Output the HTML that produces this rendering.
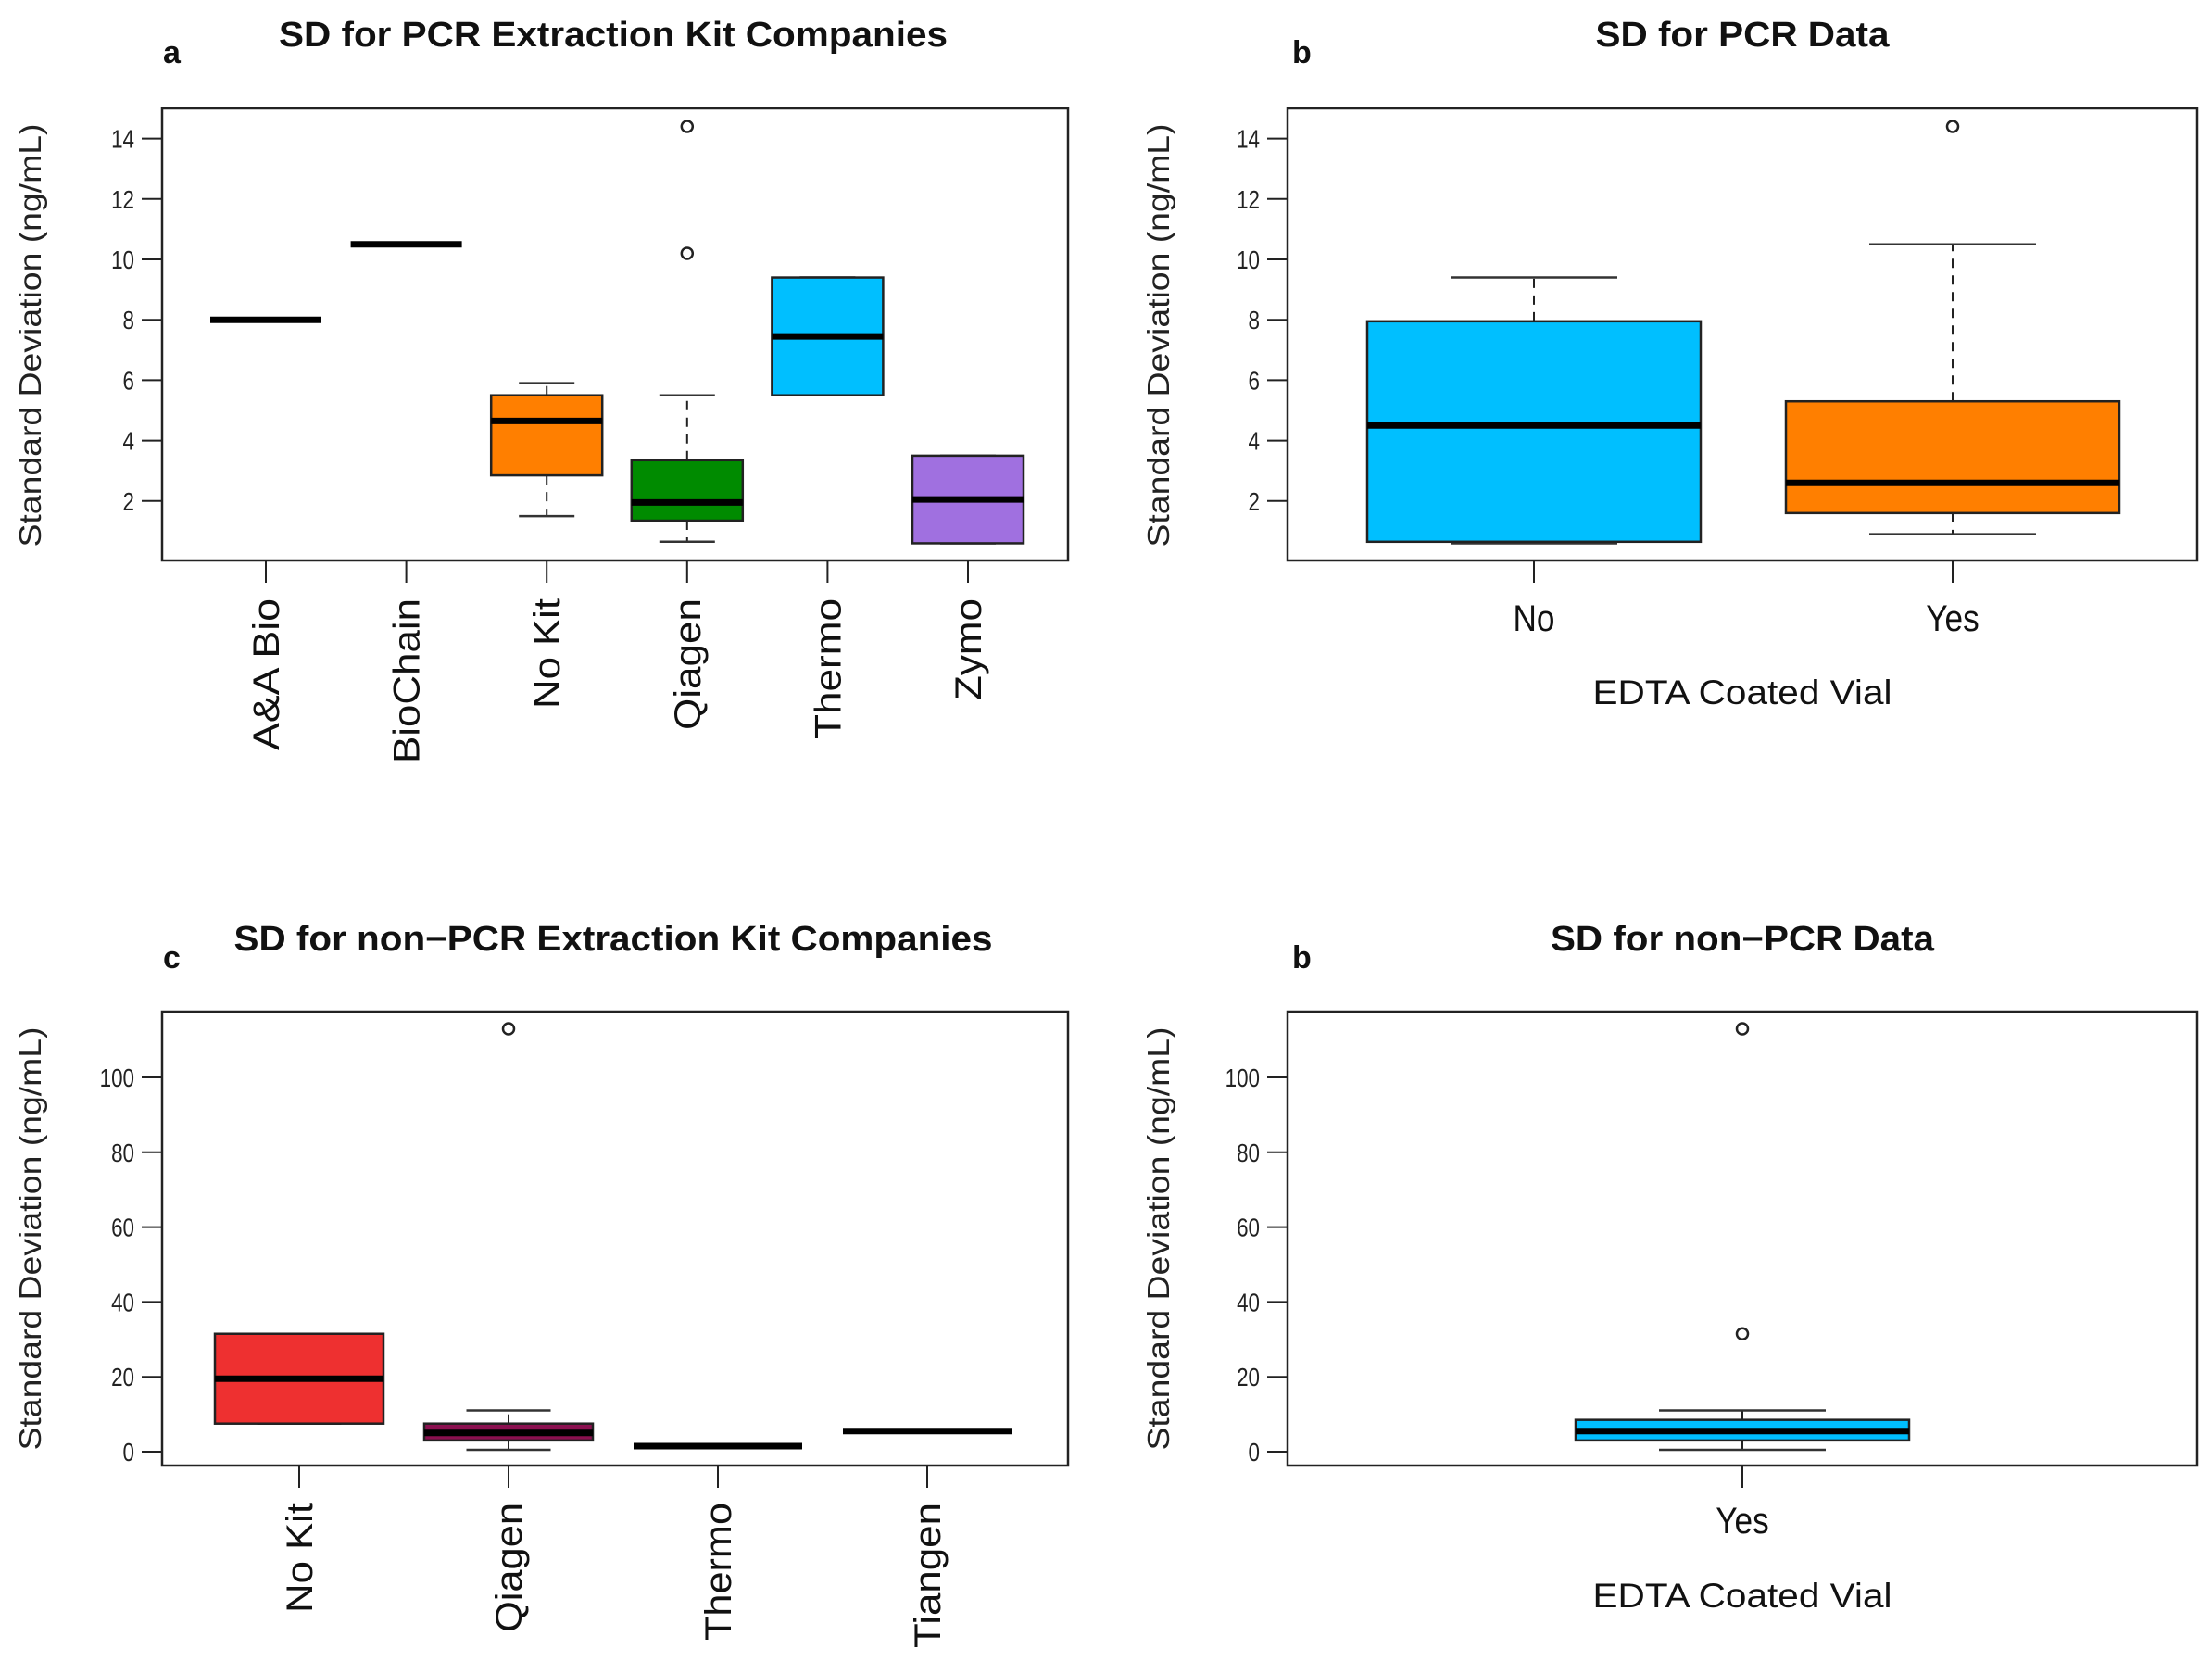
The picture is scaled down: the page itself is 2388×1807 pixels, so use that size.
<!DOCTYPE html>
<html><head><meta charset="utf-8"><style>
html,body{margin:0;padding:0;background:#fff;}
svg{display:block;font-family:"Liberation Sans",Arial,sans-serif;}
</style></head><body>
<svg id="fig" width="2388" height="1807" viewBox="0 0 2388 1807" xmlns="http://www.w3.org/2000/svg"></svg>
<script>
// ---- Panel a data ----
const catsA = ["A&A Bio","BioChain","No Kit","Qiagen","Thermo","Zymo"];
const loA   = [8, 10.5, 1.5, 0.65, 5.5, 0.6];
const q1A   = [8, 10.5, 2.85, 1.35, 5.5, 0.6];
const medA  = [8, 10.5, 4.65, 1.95, 7.45, 2.05];
const q3A   = [8, 10.5, 5.5, 3.35, 9.4, 3.5];
const hiA   = [8, 10.5, 5.9, 5.5, 9.4, 3.5];
const outA  = [[],[],[],[10.2,14.4],[],[]];
const colA  = ["#FF7F00","#FF7F00","#FF7F00","#008B00","#00BFFF","#A070E0"];
const ticksA = [2,4,6,8,10,12,14];
// ---- Panel b data ----
const catsB = ["No","Yes"];
const loB   = [0.6, 0.9];
const q1B   = [0.65, 1.6];
const medB  = [4.5, 2.6];
const q3B   = [7.95, 5.3];
const hiB   = [9.4, 10.5];
const outB  = [[],[14.4]];
const colB  = ["#00BFFF","#FF7F00"];
// ---- Panel c data ----
const catsC = ["No Kit","Qiagen","Thermo","Tiangen"];
const loC   = [7.5, 0.5, 1.5, 5.5];
const q1C   = [7.5, 3, 1.5, 5.5];
const medC  = [19.5, 5, 1.5, 5.5];
const q3C   = [31.5, 7.5, 1.5, 5.5];
const hiC   = [31.5, 11, 1.5, 5.5];
const outC  = [[],[113],[],[]];
const colC  = ["#EE3030","#8B1050","#888888","#888888"];
const ticksC = [0,20,40,60,80,100];
// ---- Panel d data ----
const catsD = ["Yes"];
const loD   = [0.5];
const q1D   = [3];
const medD  = [5.5];
const q3D   = [8.5];
const hiD   = [11];
const outD  = [[31.5,113]];
const colD  = ["#00BFFF"];

const NS="http://www.w3.org/2000/svg";
const svg=document.getElementById('fig');
function mk(tag,attrs,parent){const e=document.createElementNS(NS,tag);for(const k in attrs)e.setAttribute(k,attrs[k]);(parent||svg).appendChild(e);return e;}
function txt(s,attrs,parent){const t=mk('text',attrs,parent);t.textContent=s;return t;}

function panel(o){
  const g=mk('g',{});
  
  
  const {x0,x1,y0,y1}=o;
  const yS=v=>o.yZero - v*o.yPer;
  const n=o.cats.length;
  const xS=i=>o.cx0 + i*o.step;
  const fr=mk('rect',{x:x0,y:y0,width:x1-x0,height:y1-y0,fill:'none',stroke:'#222','stroke-width':2.5},g);
  
  
  o.ticks.forEach(t=>{
    const l=mk('line',{x1:x0-22,x2:x0,y1:yS(t),y2:yS(t),stroke:'#222','stroke-width':2},g);
    
    
    const tl=txt(String(t),{x:x0-30,y:yS(t)+10,'text-anchor':'end','font-size':28,fill:'#222',transform:`translate(${x0-30},0) scale(0.8,1) translate(${-(x0-30)},0)`},g);
    
    
  });
  const yl=txt('Standard Deviation (ng/mL)',{x:0,y:0,'text-anchor':'middle','font-size':33,fill:'#222',textLength:457,lengthAdjust:'spacingAndGlyphs',transform:`translate(${o.ylx},${o.yly}) rotate(-90)`},g);
  
  
  const ti=txt(o.title,{x:o.tx,y:o.ty,'text-anchor':'middle','font-size':38,'font-weight':'bold',fill:'#111',textLength:o.tlen,lengthAdjust:'spacingAndGlyphs'},g);
  
  
  const lt=txt(o.letter,{x:o.lx,y:o.ly,'font-size':34,'font-weight':'bold',fill:'#111'},g);
  
  
  for(let i=0;i<n;i++){
    const cx=xS(i), hw=o.hw;
    const tk=mk('line',{x1:cx,x2:cx,y1:y1,y2:y1+24,stroke:'#222','stroke-width':2},g);
    
    
    if(o.hi[i]>o.q3[i]){
      const w=mk('line',{x1:cx,x2:cx,y1:yS(o.q3[i]),y2:yS(o.hi[i]),stroke:'#222','stroke-width':2,'stroke-dasharray':'10,8'},g);
      
      
    }
    if(o.lo[i]<o.q1[i]){
      const w=mk('line',{x1:cx,x2:cx,y1:yS(o.q1[i]),y2:yS(o.lo[i]),stroke:'#222','stroke-width':2,'stroke-dasharray':'10,8'},g);
      
      
    }
    [o.hi[i],o.lo[i]].forEach(v=>{
      const c=mk('line',{x1:cx-hw/2,x2:cx+hw/2,y1:yS(v),y2:yS(v),stroke:'#333','stroke-width':2.5},g);
      
      
    });
    const bh=yS(o.q1[i])-yS(o.q3[i]);
    if(bh>1){
      const b=mk('rect',{x:cx-hw,y:yS(o.q3[i]),width:2*hw,height:bh,fill:o.col[i],stroke:'#222','stroke-width':2.5},g);
      
      
    }
    const m=mk('line',{x1:cx-hw,x2:cx+hw,y1:yS(o.med[i]),y2:yS(o.med[i]),stroke:'#000','stroke-width':7},g);
    
    
    o.out[i].forEach(v=>{
      const c=mk('circle',{cx:cx,cy:yS(v),r:6,fill:'none',stroke:'#222','stroke-width':2.5},g);
      
      
    });
    let xl;
    if(o.rot){
      xl=txt(o.cats[i],{x:0,y:0,'text-anchor':'end','font-size':40,fill:'#111',textLength:o.lens[i],lengthAdjust:'spacingAndGlyphs',transform:`translate(${cx+14},${o.xly}) rotate(-90)`},g);
    } else {
      xl=txt(o.cats[i],{x:cx,y:o.xly,'text-anchor':'middle','font-size':40,fill:'#111',transform:`translate(${cx},0) scale(0.88,1) translate(${-cx},0)`},g);
    }
    
    
  }
  if(o.xtitle){
    const xt=txt(o.xtitle,{x:(x0+x1)/2,y:o.xty,'text-anchor':'middle','font-size':37,fill:'#111',textLength:323,lengthAdjust:'spacingAndGlyphs'},g);
    
    
  }
}

panel({name:'panel-a',x0:175,x1:1153,y0:117,y1:605,yZero:606,yPer:32.6,cats:catsA,lo:loA,q1:q1A,med:medA,q3:q3A,hi:hiA,out:outA,col:colA,ticks:ticksA,
  cx0:287,step:151.6,hw:60,rot:true,xly:646,lens:[164,178,119,142,152,110],title:'SD for PCR Extraction Kit Companies',tx:662,ty:50,tlen:722,letter:'a',lx:176,ly:68,ylx:44,yly:362});
panel({name:'panel-b',x0:1390,x1:2372,y0:117,y1:605,yZero:606,yPer:32.6,cats:catsB,lo:loB,q1:q1B,med:medB,q3:q3B,hi:hiB,out:outB,col:colB,ticks:ticksA,
  cx0:1656,step:452,hw:180,rot:false,xly:681,xtitle:'EDTA Coated Vial',xty:760,title:'SD for PCR Data',tx:1881,ty:50,tlen:317,letter:'b',lx:1395,ly:68,ylx:1262,yly:362});
panel({name:'panel-c',x0:175,x1:1153,y0:1092,y1:1582,yZero:1567,yPer:4.04,cats:catsC,lo:loC,q1:q1C,med:medC,q3:q3C,hi:hiC,out:outC,col:colC,ticks:ticksC,
  cx0:323,step:226,hw:91,rot:true,xly:1622,lens:[119,140,149,157],title:'SD for non\u2212PCR Extraction Kit Companies',tx:662,ty:1026,tlen:819,letter:'c',lx:176,ly:1045,ylx:44,yly:1337});
panel({name:'panel-d',x0:1390,x1:2372,y0:1092,y1:1582,yZero:1567,yPer:4.04,cats:catsD,lo:loD,q1:q1D,med:medD,q3:q3D,hi:hiD,out:outD,col:colD,ticks:ticksC,
  cx0:1881,step:0,hw:180,rot:false,xly:1655,xtitle:'EDTA Coated Vial',xty:1735,title:'SD for non\u2212PCR Data',tx:1881,ty:1026,tlen:414,letter:'b',lx:1395,ly:1045,ylx:1262,yly:1337});
</script>
</body></html>
